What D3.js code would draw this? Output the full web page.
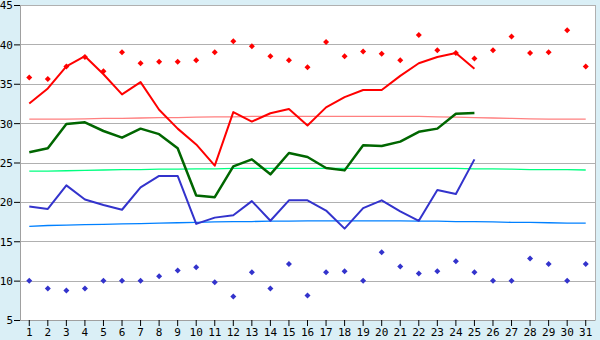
<!DOCTYPE html>
<html>
<head>
<meta charset="utf-8">
<script src="https://cdn.jsdelivr.net/npm/d3@7"></script>
<style>
	body { margin: 0; background: #daeff6; }
	svg { display: block; font-family: "DejaVu Sans Mono", monospace; }
</style>
</head>
<body>
<div id="chart"></div>
<script>
// Days of the month
const days = d3.range(1, 32);
const yTicks = [5, 10, 15, 20, 25, 30, 35, 40, 45];

// Record highs / lows (diamonds)
const recordMax = [35.8, 35.6, 37.2, 38.4, 36.6, 39.0, 37.6, 37.8, 37.8, 38.0,
	39.0, 40.4, 39.75, 38.5, 38.0, 37.1, 40.3, 38.5, 39.1, 38.8,
	38.0, 41.2, 39.25, 38.9, 38.2, 39.25, 41.0, 38.9, 39.0, 41.8, 37.2];
const recordMin = [10.0, 9.0, 8.75, 9.0, 10.0, 10.0, 10.0, 10.55, 11.3, 11.7,
	9.8, 8.0, 11.05, 9.0, 12.1, 8.1, 11.05, 11.2, 10.0, 13.6,
	11.8, 10.9, 11.2, 12.45, 11.05, 10.0, 10.0, 12.8, 12.1, 10.0, 12.1];

// Observed values (days 1-25)
const obsMax = [32.5, 34.4, 37.2, 38.5, 36.2, 33.65, 35.2, 31.7, 29.3, 27.3,
	24.6, 31.4, 30.2, 31.25, 31.8, 29.7, 32.0, 33.3, 34.2, 34.2,
	36.0, 37.6, 38.4, 38.9, 36.9];
const obsMean = [26.3, 26.8, 29.9, 30.1, 29.0, 28.15, 29.3, 28.6, 26.8, 20.8,
	20.6, 24.5, 25.4, 23.5, 26.2, 25.7, 24.3, 24.0, 27.2, 27.1,
	27.65, 28.9, 29.3, 31.2, 31.3];
const obsMin = [19.4, 19.1, 22.1, 20.3, 19.6, 19.0, 21.85, 23.3, 23.3, 17.2,
	18.0, 18.3, 20.1, 17.6, 20.2, 20.2, 18.9, 16.6, 19.2, 20.2,
	18.8, 17.6, 21.5, 21.0, 25.4];

// Normals
const normMax = [30.5, 30.5, 30.5, 30.55, 30.6, 30.6, 30.65, 30.7, 30.7, 30.75,
	30.8, 30.8, 30.85, 30.85, 30.85, 30.85, 30.85, 30.85, 30.85, 30.85,
	30.85, 30.85, 30.8, 30.75, 30.7, 30.65, 30.6, 30.55, 30.5, 30.5, 30.5];
const normMean = [23.9, 23.9, 23.95, 24.0, 24.05, 24.1, 24.1, 24.15, 24.15, 24.2,
	24.2, 24.25, 24.25, 24.25, 24.25, 24.25, 24.25, 24.25, 24.25, 24.25,
	24.25, 24.25, 24.25, 24.25, 24.2, 24.2, 24.15, 24.1, 24.1, 24.1, 24.05];
const normMin = [16.9, 17.0, 17.05, 17.1, 17.15, 17.2, 17.25, 17.3, 17.35, 17.4,
	17.45, 17.5, 17.5, 17.55, 17.55, 17.6, 17.6, 17.6, 17.6, 17.6,
	17.6, 17.55, 17.55, 17.5, 17.5, 17.45, 17.4, 17.4, 17.35, 17.3, 17.3];

const width = 600, height = 340;
const margin = { top: 5, right: 5, bottom: 20, left: 20 };

const svg = d3.select("#chart").append("svg")
	.attr("width", width).attr("height", height);

const x = d3.scaleBand(days, [margin.left, width - margin.right]);
const y = d3.scaleLinear([5, 45], [height - margin.bottom, margin.top]);
const cx = (d) => x(d) + x.bandwidth() / 2;

// plot background
svg.append("rect")
	.attr("x", margin.left).attr("y", margin.top)
	.attr("width", width - margin.left - margin.right)
	.attr("height", height - margin.top - margin.bottom)
	.attr("fill", "#fff");

// gridlines
svg.append("g").selectAll("line")
	.data(yTicks)
	.join("line")
	.attr("x1", margin.left).attr("x2", width - margin.right)
	.attr("y1", (d) => Math.round(y(d)) + 0.5).attr("y2", (d) => Math.round(y(d)) + 0.5)
	.attr("stroke", "#b0b0b0");

// right border
svg.append("line")
	.attr("x1", width - margin.right + 0.5).attr("x2", width - margin.right + 0.5)
	.attr("y1", margin.top).attr("y2", height - margin.bottom)
	.attr("stroke", "#b0b0b0");

// axes
const axisX = svg.append("g")
	.attr("transform", `translate(0, ${height - margin.bottom})`)
	.call(d3.axisBottom(x).tickSize(6).tickSizeOuter(0).tickPadding(2));
const axisY = svg.append("g")
	.attr("transform", `translate(${margin.left}, 0)`)
	.call(d3.axisLeft(y).tickValues(yTicks).tickSize(6).tickSizeOuter(0).tickPadding(1));

[axisX, axisY].forEach((g) => {
	g.select(".domain").attr("stroke", "#a0a0a0");
	g.selectAll(".tick line").attr("stroke", "#000");
	g.selectAll("text").attr("fill", "#000").style("font-size", "11px")
		.style("font-family", "'DejaVu Sans Mono', monospace");
});
axisY.selectAll(".tick text").attr("dy", "0.36em");

const line = d3.line()
	.x((d, i) => cx(days[i]))
	.y((d) => y(d));

// normal lines
const normals = [
	{ data: normMax, color: "#ff8080" },
	{ data: normMean, color: "#00ff80" },
	{ data: normMin, color: "#0080ff" }
];
svg.append("g").selectAll("path")
	.data(normals)
	.join("path")
	.attr("d", (d) => line(d.data))
	.attr("fill", "none")
	.attr("stroke", (d) => d.color)
	.attr("stroke-width", 1.3);

// observed lines
const observed = [
	{ data: obsMax, color: "#ff0000", w: 2 },
	{ data: obsMean, color: "#006600", w: 2.5 },
	{ data: obsMin, color: "#3333cc", w: 2 }
];
svg.append("g").selectAll("path")
	.data(observed)
	.join("path")
	.attr("d", (d) => line(d.data))
	.attr("fill", "none")
	.attr("stroke", (d) => d.color)
	.attr("stroke-width", (d) => d.w)
	.attr("stroke-linejoin", "round");

// records (small square diamonds)
const diamond = "M0,-3L3,0L0,3L-3,0Z";
const records = [
	{ data: recordMax, color: "#ff0000" },
	{ data: recordMin, color: "#3333cc" }
];
records.forEach((r) => {
	svg.append("g").selectAll("path")
		.data(r.data)
		.join("path")
		.attr("transform", (d, i) => `translate(${cx(days[i])}, ${y(d)})`)
		.attr("d", diamond)
		.attr("fill", r.color);
});
</script>
</body>
</html>
